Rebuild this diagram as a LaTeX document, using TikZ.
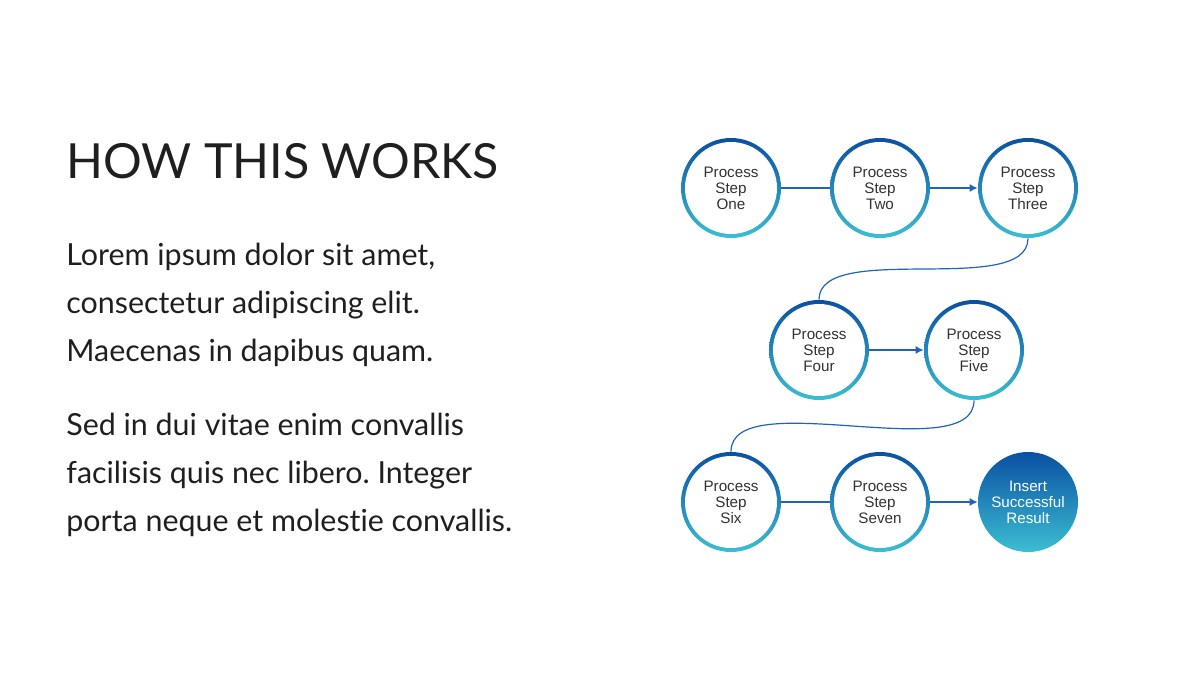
\documentclass[tikz,border=0pt]{standalone}
\usepackage{fontspec}
\setmainfont{Lato}[Ligatures=NoCommon]
\newfontfamily\stepfont{Liberation Sans}
\usetikzlibrary{arrows.meta}
\frenchspacing
\definecolor{ringtop}{RGB}{10,80,162}
\definecolor{ringbot}{RGB}{60,190,210}
\definecolor{linkblue}{RGB}{30,100,185}
\definecolor{steptext}{RGB}{50,50,50}

\begin{document}
\begin{tikzpicture}[
        x=0.5pt, y=-0.5pt,
        stepnode/.style={
            circle,
            minimum size=50pt,
            inner sep=0pt,
            top color=ringtop,
            bottom color=ringbot,
            path picture={\fill[white] (path picture bounding box.center) circle (23pt);},
            font=\stepfont\fontsize{7.6}{8}\selectfont,
            text=steptext,
            align=center
        },
        resultnode/.style={
            stepnode,
            path picture={},
            text=white
        },
        bodytext/.style={anchor=base west, inner sep=0pt, align=left,
            font=\fontsize{15.2}{24}\selectfont, text=black!88},
        link/.style={linkblue, line width=0.6pt},
        linkarrow/.style={link, -{Latex[length=4pt,width=4pt]}}
    ]
    \useasboundingbox (0,0) rectangle (1200,675);

    % left text
    \node[anchor=base west, inner sep=0pt, font=\fontsize{24.2}{28}\selectfont, text=black!88] (title)
        at (66,178) {HOW THIS WORKS};
    \node[bodytext] (parone)
        at (66,361) {Lorem ipsum dolor sit amet,\\consectetur adipiscing elit.\\Maecenas in dapibus quam.};
    \node[bodytext] (partwo)
        at (66,531) {Sed in dui vitae enim convallis\\facilisis quis nec libero. Integer\\porta neque et molestie convallis.};

    % process steps
    \node[stepnode] (one)   at (731,188) {Process\\Step\\One};
    \node[stepnode] (two)   at (880,188) {Process\\Step\\Two};
    \node[stepnode] (three) at (1028,188) {Process\\Step\\Three};
    \node[stepnode] (four)  at (819,350) {Process\\Step\\Four};
    \node[stepnode] (five)  at (974,350) {Process\\Step\\Five};
    \node[stepnode] (six)   at (731,502) {Process\\Step\\Six};
    \node[stepnode] (seven) at (880,502) {Process\\Step\\Seven};
    \node[resultnode] (result) at (1028,502) {Insert\\Successful\\Result};

    % links
    \draw[link] (one) -- (two);
    \draw[linkarrow] (two) -- (three);
    \draw[link] (three.south) to[out=-90, in=90, looseness=0.7] (four.north);
    \draw[linkarrow] (four) -- (five);
    \draw[link] (five.south) to[out=-90, in=90, looseness=0.7] (six.north);
    \draw[link] (six) -- (seven);
    \draw[linkarrow] (seven) -- (result);
\end{tikzpicture}
\end{document}
